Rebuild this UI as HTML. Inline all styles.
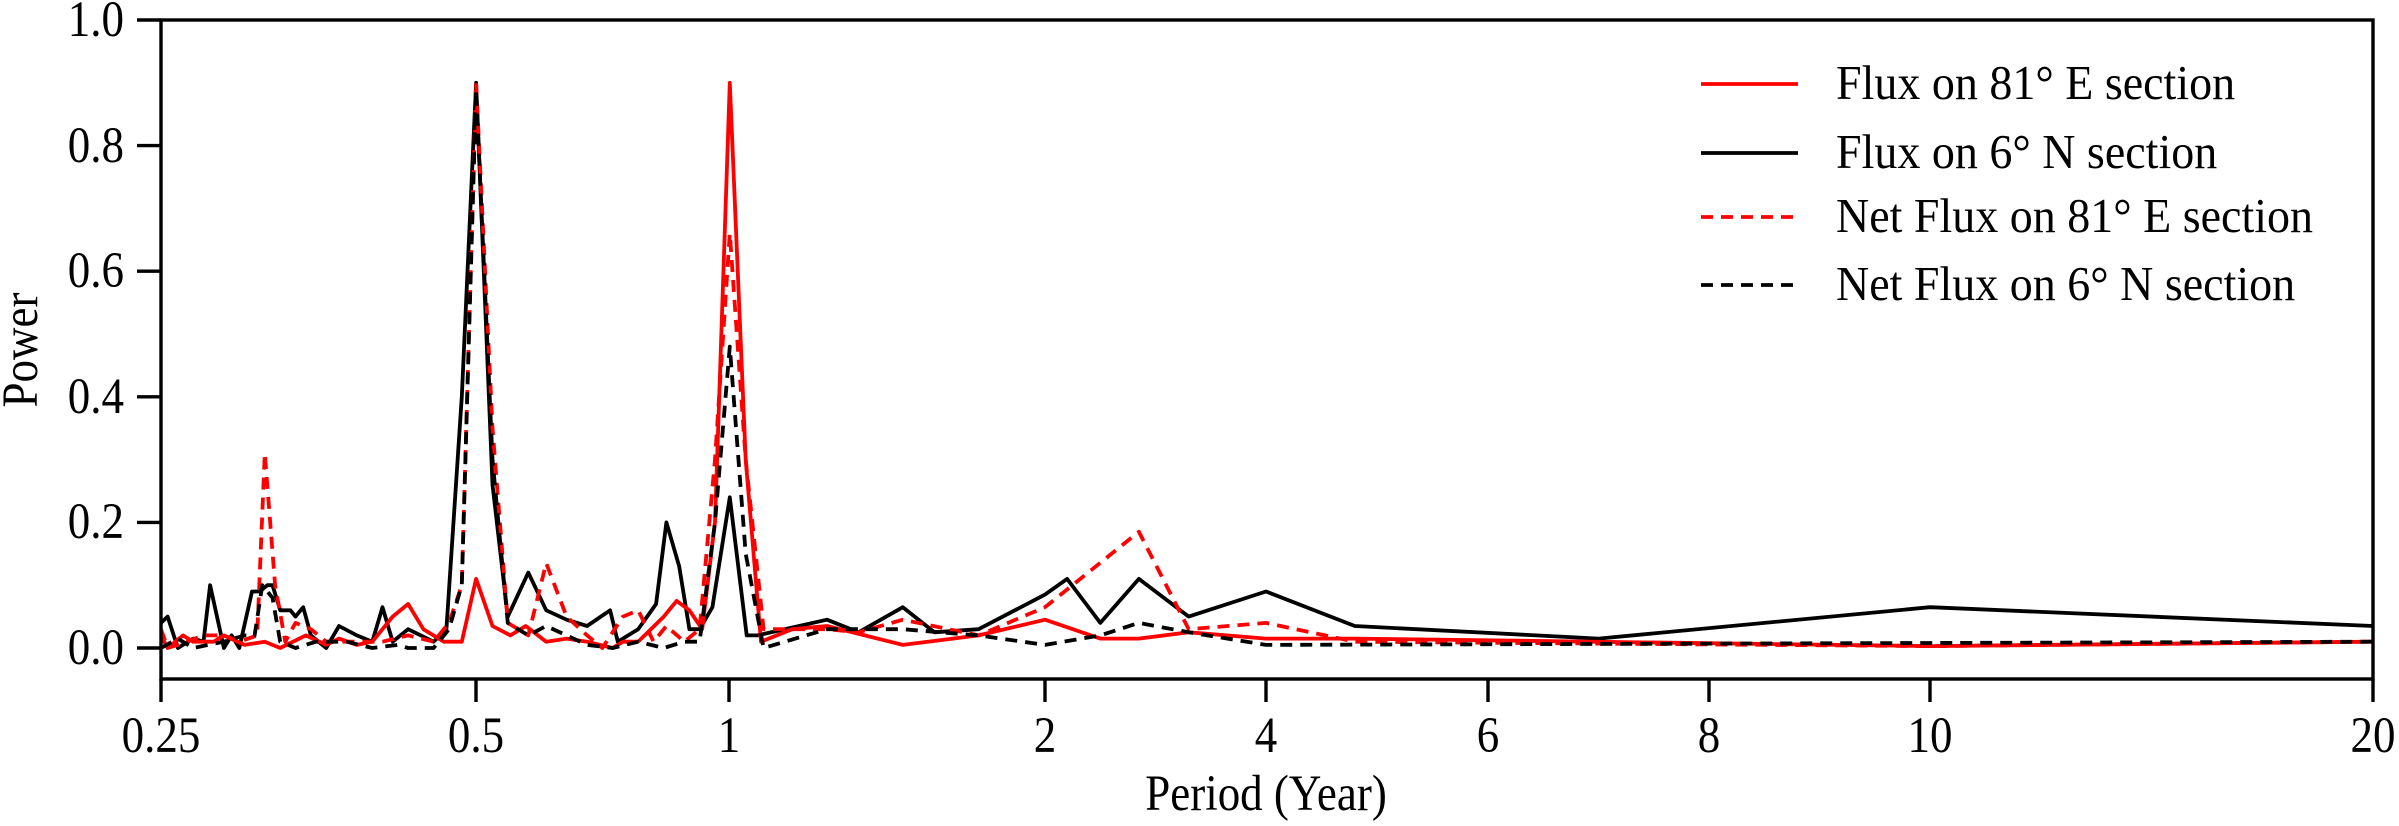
<!DOCTYPE html>
<html><head><meta charset="utf-8"><style>
html,body{margin:0;padding:0;background:#fff;}
svg{display:block;font-family:"Liberation Serif",serif;}
</style></head><body>
<svg id="s" width="2399" height="826" viewBox="0 0 2399 826" xmlns="http://www.w3.org/2000/svg">
<g id="series" fill="none" stroke-width="3.8" stroke-linejoin="round"></g>
<rect x="161" y="20" width="2212" height="659" fill="none" stroke="#000" stroke-width="3.4"/>
<g stroke="#000" stroke-width="3.4">
<line x1="137" y1="20" x2="161" y2="20"/><line x1="137" y1="145.6" x2="161" y2="145.6"/>
<line x1="137" y1="271.2" x2="161" y2="271.2"/><line x1="137" y1="396.8" x2="161" y2="396.8"/>
<line x1="137" y1="522.4" x2="161" y2="522.4"/><line x1="137" y1="648" x2="161" y2="648"/>
<line x1="161" y1="679" x2="161" y2="702"/><line x1="476" y1="679" x2="476" y2="702"/>
<line x1="729" y1="679" x2="729" y2="702"/><line x1="1045" y1="679" x2="1045" y2="702"/>
<line x1="1266" y1="679" x2="1266" y2="702"/><line x1="1488" y1="679" x2="1488" y2="702"/>
<line x1="1709" y1="679" x2="1709" y2="702"/><line x1="1930" y1="679" x2="1930" y2="702"/>
<line x1="2373" y1="679" x2="2373" y2="702"/>
</g>
<g font-size="45" text-anchor="end" fill="#000">
<text transform="translate(124,36) scale(1,1.12)">1.0</text>
<text transform="translate(124,162) scale(1,1.12)">0.8</text>
<text transform="translate(124,287) scale(1,1.12)">0.6</text>
<text transform="translate(124,413) scale(1,1.12)">0.4</text>
<text transform="translate(124,538) scale(1,1.12)">0.2</text>
<text transform="translate(124,664) scale(1,1.12)">0.0</text>
</g>
<g font-size="45" text-anchor="middle" fill="#000">
<text transform="translate(161,752) scale(1,1.12)">0.25</text>
<text transform="translate(476,752) scale(1,1.12)">0.5</text>
<text transform="translate(729,752) scale(1,1.12)">1</text>
<text transform="translate(1045,752) scale(1,1.12)">2</text>
<text transform="translate(1266,752) scale(1,1.12)">4</text>
<text transform="translate(1488,752) scale(1,1.12)">6</text>
<text transform="translate(1709,752) scale(1,1.12)">8</text>
<text transform="translate(1930,752) scale(1,1.12)">10</text>
<text transform="translate(2373,752) scale(1,1.12)">20</text>
<text transform="translate(1266,810) scale(1,1.12)">Period (Year)</text>
<text transform="translate(37,350) rotate(-90) scale(1,1.12)">Power</text>
</g>
<g stroke-width="3.8">
<line x1="1701" y1="84" x2="1798" y2="84" stroke="#f00"/>
<line x1="1701" y1="153" x2="1798" y2="153" stroke="#000"/>
<line x1="1701" y1="217" x2="1798" y2="217" stroke="#f00" stroke-dasharray="12,8"/>
<line x1="1701" y1="285" x2="1798" y2="285" stroke="#000" stroke-dasharray="12,8"/>
</g>
<g font-size="46" fill="#000">
<text transform="translate(1836,99) scale(1,1.05)">Flux on 81° E section</text>
<text transform="translate(1836,168) scale(1,1.05)">Flux on 6° N section</text>
<text transform="translate(1836,232) scale(1,1.05)">Net Flux on 81° E section</text>
<text transform="translate(1836,300) scale(1,1.05)">Net Flux on 6° N section</text>
</g>
</svg>
<script>
function zx(x){return 161+(x-317)/1.955;}
var K=[[1,729],[2,1045],[4,1266],[6,1488],[8,1709],[10,1930],[20,2373]];
function px(p){for(var i=0;i<K.length-1;i++){var a=K[i],b=K[i+1];if(p<=b[0])return a[1]+(p-a[0])/(b[0]-a[0])*(b[1]-a[1]);}return 2373;}
function vy(v){return 648-v*628;}
function mk(z,d){var p=[];for(var i=0;i<z.length;i+=2)p.push([zx(z[i]),vy(z[i+1])]);for(var j=0;j<d.length;j+=2)p.push([px(d[j]),vy(d[j+1])]);
return p.map(function(q,k){return (k?'L':'M')+q[0].toFixed(1)+' '+q[1].toFixed(1);}).join(' ');}
var S=[
{c:'#000',da:'',z:[317,0.04,330,0.05,350,0.0,380,0.015,400,0.01,413,0.1,440,0.0,455,0.02,470,0.0,495,0.09,510,0.09,525,0.1,535,0.1,550,0.06,570,0.06,580,0.05,595,0.065,610,0.02,640,0.0,665,0.035,700,0.02,730,0.01,750,0.065,770,0.01,800,0.03,850,0.01,875,0.03,905,0.4,933,0.9,965,0.26,995,0.05,1035,0.12,1070,0.06,1110,0.045,1150,0.035,1195,0.06,1210,0.01,1250,0.03,1285,0.07,1305,0.2,1330,0.13,1350,0.03,1370,0.03,1395,0.065,1429,0.24,1462,0.02],
 d:[1.09,0.02,1.31,0.045,1.41,0.025,1.55,0.065,1.65,0.025,1.79,0.03,2.0,0.085,2.2,0.11,2.5,0.04,2.85,0.11,3.3,0.05,4,0.09,4.8,0.035,7.0,0.015,10,0.065,20,0.035]},
{c:'#f00',da:'',z:[317,0.02,330,0.0,360,0.02,380,0.01,420,0.01,440,0.02,480,0.005,520,0.01,550,0.0,600,0.02,640,0.005,665,0.015,700,0.005,730,0.01,770,0.05,800,0.07,830,0.03,870,0.01,905,0.01,933,0.11,965,0.035,1000,0.02,1030,0.035,1070,0.01,1110,0.015,1150,0.01,1200,0.0,1220,0.01,1250,0.01,1300,0.05,1325,0.075,1350,0.06,1375,0.03,1400,0.2,1429,0.9,1460,0.3,1490,0.01],
 d:[1.2,0.03,1.31,0.035,1.55,0.005,1.79,0.02,2.0,0.045,2.5,0.015,2.85,0.015,3.3,0.025,4,0.015,4.8,0.015,10,0.003,20,0.01]},
{c:'#f00',da:'12,8',z:[317,0.03,330,0.0,350,0.005,400,0.02,440,0.02,470,0.01,505,0.02,520,0.31,540,0.1,560,0.01,580,0.04,610,0.03,640,0.01,700,0.01,750,0.01,800,0.02,850,0.01,880,0.04,905,0.1,933,0.9,965,0.35,995,0.04,1035,0.02,1070,0.135,1110,0.05,1150,0.02,1180,0.0,1220,0.05,1250,0.06,1280,0.01,1305,0.035,1340,0.01,1370,0.03,1400,0.3,1429,0.66,1460,0.3,1495,0.03],
 d:[1.31,0.03,1.41,0.025,1.55,0.045,1.79,0.02,2.0,0.065,2.85,0.185,3.3,0.03,4,0.04,4.8,0.01,10,0.003,20,0.01]},
{c:'#000',da:'12,8',z:[317,0.0,350,0.015,380,0.0,440,0.01,480,0.02,500,0.02,515,0.1,535,0.08,550,0.01,580,0.0,620,0.01,680,0.01,730,0.0,780,0.005,800,0.0,850,0.0,880,0.03,905,0.1,933,0.89,965,0.3,995,0.04,1035,0.02,1070,0.035,1110,0.02,1150,0.005,1200,0.0,1250,0.01,1300,0.0,1340,0.01,1370,0.01,1400,0.2,1429,0.48,1460,0.15,1495,0.0],
 d:[1.31,0.03,1.55,0.03,1.79,0.02,2.0,0.005,2.5,0.02,2.85,0.04,3.3,0.025,4,0.005,20,0.01]}
];
var g=document.getElementById('series'),ns='http://www.w3.org/2000/svg';
S.forEach(function(s){var p=document.createElementNS(ns,'path');p.setAttribute('d',mk(s.z,s.d));p.setAttribute('stroke',s.c);if(s.da)p.setAttribute('stroke-dasharray',s.da);g.appendChild(p);});
</script>
</body></html>
